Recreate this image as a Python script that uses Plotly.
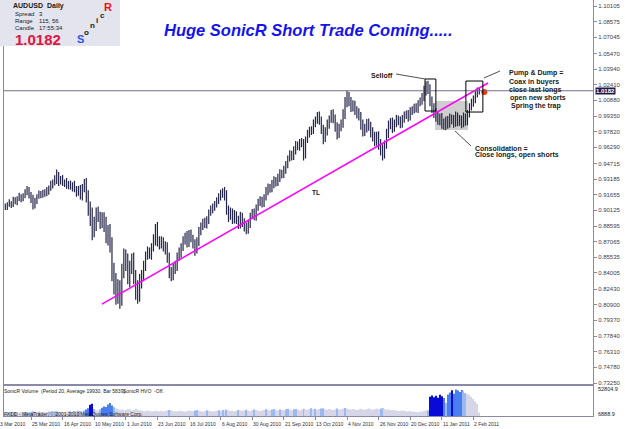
import plotly.graph_objects as go

# ---------------- data ----------------
first_index = 3            # bar index of the first visible bar (bar 0 = 3 Mar 2010)
first_open = 0.9040

closes = [
    0.9050, 0.9068, 0.9082, 0.9075, 0.9110, 0.9098, 0.9125, 0.9140, 0.9132, 0.9160,
    0.9185, 0.9210, 0.9168, 0.9120, 0.9070, 0.9105, 0.9150, 0.9172, 0.9165, 0.9188,
    0.9180, 0.9205, 0.9230, 0.9262, 0.9285, 0.9310, 0.9352, 0.9300, 0.9318, 0.9280,
    0.9290, 0.9255, 0.9270, 0.9238, 0.9262, 0.9220, 0.9190, 0.9215, 0.9150, 0.9240,
    0.9280, 0.9150, 0.9030, 0.8950, 0.8820, 0.8870, 0.8980, 0.8950, 0.8900, 0.8935,
    0.8880, 0.8760, 0.8790, 0.8680, 0.8420, 0.8300, 0.8180, 0.8250, 0.8150, 0.8420,
    0.8560, 0.8500, 0.8350, 0.8460, 0.8520, 0.8370, 0.8240, 0.8180, 0.8320, 0.8380,
    0.8470, 0.8570, 0.8600, 0.8590, 0.8650, 0.8720, 0.8830, 0.8720, 0.8680, 0.8710,
    0.8660, 0.8640, 0.8550, 0.8420, 0.8380, 0.8430, 0.8470, 0.8560, 0.8600, 0.8650,
    0.8720, 0.8760, 0.8700, 0.8780, 0.8740, 0.8690, 0.8630, 0.8700, 0.8810, 0.8860,
    0.8900, 0.8870, 0.8920, 0.8990, 0.9020, 0.9050, 0.9070, 0.9110, 0.9140, 0.9170,
    0.9190, 0.9150, 0.9020, 0.8960, 0.8990, 0.8930, 0.8970, 0.8920, 0.8880, 0.8950,
    0.8900, 0.8850, 0.8820, 0.8880, 0.8960, 0.8990, 0.8950, 0.9040, 0.9090, 0.9110,
    0.9080, 0.9140, 0.9200, 0.9240, 0.9220, 0.9270, 0.9310, 0.9280, 0.9330, 0.9380,
    0.9360, 0.9410, 0.9460, 0.9520, 0.9560, 0.9540, 0.9610, 0.9650, 0.9630, 0.9680,
    0.9660, 0.9560, 0.9700, 0.9760, 0.9800, 0.9790, 0.9860, 0.9900, 0.9930, 0.9880,
    0.9810, 0.9720, 0.9780, 0.9850, 0.9900, 0.9950, 0.9910, 0.9830, 0.9760, 0.9820,
    0.9860, 0.9950, 1.0060, 1.0120, 1.0080, 1.0020, 1.0040, 0.9990, 0.9960, 0.9930,
    0.9850, 0.9780, 0.9820, 0.9860, 0.9840, 0.9780, 0.9730, 0.9690, 0.9740, 0.9660,
    0.9600, 0.9560, 0.9650, 0.9760, 0.9850, 0.9870, 0.9820, 0.9860, 0.9900, 0.9890,
    0.9850, 0.9910, 0.9940, 0.9960, 0.9920, 0.9980, 1.0000, 1.0020, 1.0000, 1.0060,
    1.0080, 1.0120, 1.0180, 1.0230, 1.0190, 1.0080, 1.0020, 0.9960, 0.9930, 0.9890,
    0.9920, 0.9860, 0.9840, 0.9890, 0.9860, 0.9910, 0.9900, 0.9870, 0.9930, 0.9880,
    0.9900, 0.9860, 0.9920, 0.9880, 0.9960, 1.0020, 1.0060, 1.0100, 1.0150, 1.0170,
    1.0182,
]

# upper / lower shadows in pips
up_wick = [
    30, 25, 40, 20, 35, 30, 25, 45, 30, 20,
    35, 40, 30, 25, 45, 30, 20, 35, 30, 25,
    30, 35, 25, 40, 30, 45, 60, 35, 30, 40,
    25, 40, 30, 35, 25, 40, 30, 35, 45, 30,
    40, 50, 60, 70, 90, 80, 60, 70, 50, 60,
    60, 70, 80, 90, 70, 80, 100, 90, 80, 70,
    80, 70, 90, 60, 70, 80, 60, 90, 70, 50,
    50, 40, 60, 50, 40, 60, 50, 70, 40, 50,
    40, 50, 60, 50, 40, 60, 50, 40, 50, 40,
    40, 35, 50, 40, 45, 35, 40, 50, 40, 35,
    30, 40, 35, 30, 40, 30, 35, 30, 40, 45,
    40, 50, 60, 40, 50, 40, 45, 35, 40, 50,
    40, 35, 45, 40, 30, 35, 40, 30, 35, 40,
    35, 30, 40, 35, 30, 40, 35, 30, 40, 35,
    30, 40, 35, 30, 40, 35, 30, 40, 35, 30,
    40, 50, 35, 40, 30, 35, 40, 30, 45, 50,
    50, 40, 45, 50, 40, 45, 50, 40, 45, 40,
    40, 50, 60, 60, 50, 40, 50, 45, 40, 50,
    45, 50, 40, 45, 50, 40, 45, 50, 40, 45,
    50, 60, 45, 50, 40, 45, 50, 40, 45, 40,
    40, 35, 40, 30, 35, 40, 30, 35, 40, 30,
    35, 40, 50, 45, 50, 55, 45, 40, 50, 45,
    40, 45, 50, 40, 45, 50, 40, 45, 50, 40,
    45, 40, 50, 40, 35, 40, 45, 35, 40, 45,
    30,
]
down_wick = [
    25, 35, 20, 40, 30, 25, 35, 20, 40, 30,
    30, 25, 40, 35, 50, 40, 30, 25, 35, 30,
    35, 30, 40, 25, 35, 30, 40, 50, 35, 30,
    40, 30, 35, 25, 40, 30, 45, 35, 30, 40,
    50, 60, 70, 90, 100, 70, 60, 50, 70, 60,
    80, 70, 90, 80, 100, 110, 90, 80, 100, 70,
    70, 80, 60, 90, 70, 80, 100, 80, 60, 70,
    60, 50, 40, 50, 60, 40, 50, 60, 50, 40,
    50, 60, 50, 70, 60, 50, 40, 50, 40, 50,
    35, 40, 50, 45, 40, 50, 60, 40, 35, 40,
    40, 30, 35, 40, 30, 35, 40, 30, 35, 30,
    35, 40, 50, 60, 40, 50, 45, 40, 50, 45,
    50, 45, 40, 35, 40, 30, 35, 40, 30, 35,
    40, 35, 30, 40, 35, 30, 40, 35, 30, 40,
    35, 30, 40, 35, 30, 40, 35, 50, 30, 35,
    30, 60, 40, 30, 35, 40, 30, 35, 40, 30,
    50, 60, 40, 35, 40, 30, 45, 50, 55, 40,
    35, 40, 45, 40, 50, 45, 40, 45, 50, 40,
    50, 45, 40, 45, 50, 55, 45, 50, 45, 55,
    50, 60, 40, 35, 40, 45, 50, 40, 35, 45,
    35, 30, 40, 35, 40, 30, 35, 40, 30, 35,
    30, 35, 40, 45, 40, 50, 55, 45, 50, 40,
    45, 50, 40, 45, 50, 40, 45, 50, 40, 45,
    40, 45, 35, 40, 35, 40, 30, 35, 40, 35,
    25,
]

volumes = [
    5200, 6100, 5800, 6400, 5500, 7000, 6200, 5900, 6600, 6000,
    6800, 7400, 6500, 7100, 8200, 6900, 6300, 7200, 6700, 6100,
    6400, 7000, 7800, 6900, 7300, 8100, 7600, 7000, 6800, 7400,
    6900, 7700, 7200, 8000, 7500, 8400, 7900, 9000, 8600, 8200,
    9500, 11000, 13000, 19000, 21000, 12000, 10000, 9200, 11500, 14000,
    16000, 15500, 19500, 22000, 18000, 15000, 13000, 12500, 10500, 11000,
    9800, 10200, 12000, 11000, 9500, 10800, 12500, 10000, 9600, 8800,
    8200, 7800, 9400, 8600, 7900, 8300, 9100, 8400, 7600, 8800,
    8000, 8700, 9300, 10400, 9900, 8600, 8100, 7700, 8500, 8900,
    8300, 7600, 8100, 9200, 8700, 7900, 9500, 10100, 8800, 8200,
    7800, 8500, 9600, 8800, 8100, 7500, 8300, 9000, 9700, 8400,
    10200, 9400, 11000, 9800, 8600, 9100, 8000, 8700, 10300, 9200,
    8800, 9600, 10800, 9300, 8500, 9900, 11200, 10400, 9100, 8600,
    9400, 10100, 11500, 10200, 9600, 10900, 11800, 10300, 9700, 11100,
    10600, 9800, 11400, 12300, 10800, 10000, 11600, 12000, 10500, 9700,
    10900, 12400, 11300, 10200, 11800, 13000, 11400, 12200, 10700, 11900,
    12600, 13200, 11500, 10800, 12100, 11200, 10400, 11700, 12800, 11000,
    11600, 12500, 13600, 12900, 11300, 10600, 11800, 10900, 10200, 11500,
    12300, 11100, 10500, 11900, 12700, 11400, 10800, 12000, 12600, 11300,
    12900, 13400, 11700, 10600, 11200, 10300, 9800, 10700, 9500, 9100,
    8600, 9400, 8900, 8300, 7800, 8500, 7600, 7200, 6900, 6600,
    7100, 7800, 8400, 9200, 9900, 33000, 35000, 32000, 34500, 31000,
    36000, 33500, 30500, 22000, 36500, 40000, 44000, 38000, 45000, 43500,
    41000, 44500, 42000, 39000, 37500, 36000, 33000, 29000, 25000, 21000,
    5839,
]
volume_max = 52804.9

date_labels = ["3 Mar 2010", "25 Mar 2010", "16 Apr 2010", "10 May 2010", "1 Jun 2010",
               "23 Jun 2010", "16 Jul 2010", "6 Aug 2010", "30 Aug 2010", "21 Sep 2010",
               "13 Oct 2010", "4 Nov 2010", "26 Nov 2010", "20 Dec 2010", "11 Jan 2011",
               "2 Feb 2011"]
date_index = [0, 16, 32, 48, 64, 80, 96, 112, 128, 144, 160, 176, 192, 208, 224, 240]

price_ticks = [1.10105, 1.08575, 1.07045, 1.05470, 1.03940, 1.02410, 1.00880, 0.99350,
               0.97820, 0.96290, 0.94715, 0.93185, 0.91655, 0.90125, 0.88595, 0.87065,
               0.85535, 0.84005, 0.82430, 0.80900, 0.79370, 0.77840, 0.76310, 0.74780,
               0.73250]
current_price = 1.0182

# trend line (bar index, price) and highlighted zones
trend_x = [51.9, 247.4]
trend_y = [0.8097, 1.0258]
selloff_box = dict(x0=215.5, x1=221.0, y0=0.9984, y1=1.0297)
pump_box = dict(x0=236.2, x1=244.8, y0=0.9974, y1=1.0277)
consol_zone = dict(x0=220.6, x1=237.3, y0=0.9798, y1=1.0082)

# ---------------- build ----------------
n = min(len(closes), len(up_wick), len(down_wick), len(volumes))
idx = list(range(first_index, first_index + n))
opens = [first_open] + closes[:n - 1]
highs = [max(o, c) + u * 0.0001 for o, c, u in zip(opens, closes, up_wick)]
lows = [min(o, c) - d * 0.0001 for o, c, d in zip(opens, closes, down_wick)]

vol_colors = []
for k, v in enumerate(volumes[:n]):
    prev = volumes[max(0, k - 20):k] or [v]
    r = v / (sum(prev) / len(prev))
    if r >= 2.0:
        vol_colors.append("#0a0ad8")
    elif r >= 1.35:
        vol_colors.append("#4a7ef0")
    elif r >= 1.1:
        vol_colors.append("#9ab8f2")
    else:
        vol_colors.append("#d6d6e8")

W, H = 625, 429
x_left, x_right = 4, 593
main_bottom, vol_bottom = 385, 416
xr = [2.33, 300.56]
yr = [0.73054, 1.10692]

FONT = "Liberation Sans"
AX = "#8a8aa8"

fig = go.Figure()
fig.add_trace(go.Ohlc(
    x=idx, open=opens, high=highs, low=lows, close=closes[:n],
    increasing=dict(line=dict(color="#26264a", width=1.2)),
    decreasing=dict(line=dict(color="#26264a", width=1.2)),
    tickwidth=0.3, xaxis="x", yaxis="y", showlegend=False, hoverinfo="skip"))

fig.add_trace(go.Scatter(x=trend_x, y=trend_y, mode="lines",
                         line=dict(color="#ff00ff", width=1.5),
                         xaxis="x", yaxis="y", showlegend=False, hoverinfo="skip"))
fig.add_trace(go.Scatter(x=[245.5], y=[1.0170], mode="markers",
                         marker=dict(color="#ff3300", size=6),
                         xaxis="x", yaxis="y", showlegend=False, hoverinfo="skip"))

fig.add_trace(go.Bar(x=idx, y=volumes[:n], marker=dict(color=vol_colors, line=dict(width=0)),
                     xaxis="x2", yaxis="y2", showlegend=False, hoverinfo="skip"))

fig.update_layout(
    width=W, height=H, margin=dict(l=0, r=0, t=0, b=0),
    paper_bgcolor="white", plot_bgcolor="white", bargap=0.45,
    font=dict(family=FONT, color="#303040"),
    xaxis=dict(domain=[x_left / W, x_right / W], range=xr, anchor="y",
               showticklabels=False, showgrid=False, zeroline=False,
               showline=True, mirror=True, linecolor=AX, linewidth=1,
               rangeslider=dict(visible=False)),
    yaxis=dict(domain=[1 - main_bottom / H, 1], range=yr, side="right", anchor="x",
               tickvals=price_ticks, ticktext=[f"{t:.5f}" for t in price_ticks],
               tickfont=dict(size=6, family=FONT, color="#404050"),
               ticks="outside", ticklen=3, tickcolor=AX,
               showgrid=False, zeroline=False, showline=True, mirror=True,
               linecolor=AX, linewidth=1, automargin=False),
    xaxis2=dict(domain=[x_left / W, x_right / W], range=xr, anchor="y2",
                tickvals=date_index, showticklabels=False, ticks="outside",
                ticklen=3, tickcolor=AX, showgrid=False, zeroline=False,
                showline=True, mirror=True, linecolor=AX, linewidth=1),
    yaxis2=dict(domain=[1 - vol_bottom / H, 1 - main_bottom / H], range=[0, volume_max],
                side="right", anchor="x2", showticklabels=False, ticks="",
                showgrid=False, zeroline=False, showline=True, mirror=True,
                linecolor=AX, linewidth=1, automargin=False),
)

shapes = [
    dict(type="rect", xref="x", yref="y", layer="below", line=dict(width=0),
         fillcolor="rgba(190,190,190,0.75)", **consol_zone),
    dict(type="line", xref="paper", yref="y", x0=x_left / W, x1=x_right / W,
         y0=current_price, y1=current_price, line=dict(color="#707088", width=1)),
    dict(type="rect", xref="x", yref="y", line=dict(color="black", width=1),
         fillcolor="rgba(0,0,0,0)", **selloff_box),
    dict(type="rect", xref="x", yref="y", line=dict(color="black", width=1),
         fillcolor="rgba(0,0,0,0)", **pump_box),
    # pointer lines
    dict(type="line", xref="x", yref="y", x0=200.8, y0=1.0346, x1=215.5, y1=1.0297,
         line=dict(color="#505050", width=1)),
    dict(type="line", xref="x", yref="y", x0=245.4, y0=1.0307, x1=253.5, y1=1.0375,
         line=dict(color="#505050", width=1)),
    dict(type="line", xref="x", yref="y", x0=230.7, y0=0.9789, x1=238.8, y1=0.9642,
         line=dict(color="#505050", width=1)),
    # info box
    dict(type="rect", xref="paper", yref="paper", x0=0, x1=120 / W, y0=1 - 46 / H, y1=1,
         fillcolor="#e4e4ee", line=dict(width=0), layer="above"),
]
fig.update_layout(shapes=shapes)


def px(x):
    return x / W


def py(y):
    return 1 - y / H


def index_to_paper(i):
    d0, d1 = x_left / W, x_right / W
    return d0 + (i - xr[0]) / (xr[1] - xr[0]) * (d1 - d0)


ann = []


def t(text, x, y, size, color="#202020", xref="paper", yref="paper", xanchor="left", bold=False, italic=False, **kw):
    if bold:
        text = f"<b>{text}</b>"
    if italic:
        text = f"<i>{text}</i>"
    ann.append(dict(text=text, x=x, y=y, xref=xref, yref=yref, xanchor=xanchor,
                    yanchor="middle", showarrow=False,
                    font=dict(size=size, color=color, family=FONT), **kw))


# info box texts
t("AUDUSD", px(11), py(6), 7, bold=True)
t("Daily", px(45), py(6), 7, bold=True)
t("Spread", px(13), py(14.3), 6)
t("3", px(37), py(14.3), 6)
t("Range", px(13), py(21), 6)
t("115, 56", px(37), py(21), 6)
t("Candle", px(13), py(27.7), 6)
t("17:55:34", px(37), py(27.7), 6)
t(f"{current_price:.4f}", px(13), py(39), 15, color="#e0143c", bold=True)
t("S", px(80), py(39), 11, color="#2e50e6", xanchor="center", bold=True)
t("o", px(86), py(32), 8, color="#202020", xanchor="center", bold=True)
t("n", px(92), py(26), 8, color="#202020", xanchor="center", bold=True)
t("i", px(97), py(20.5), 8, color="#202020", xanchor="center", bold=True)
t("c", px(102), py(15), 8, color="#202020", xanchor="center", bold=True)
t("R", px(108), py(7), 11, color="#ee1010", xanchor="center", bold=True)

# title
t("Huge SonicR Short Trade Coming.....", px(307.5), py(30), 16.5, color="#1414ee",
  xanchor="center", bold=True, italic=True)

# chart notes (data coordinates)
t("Selloff", 193.7, 1.0336, 7, xref="x", yref="y", xanchor="center", bold=True)
pump_lines = ["Pump & Dump =", "Coax in buyers", "close last longs", "open new shorts", "Spring the trap"]
pump_y = [1.0356, 1.0270, 1.0192, 1.0114, 1.0033]
pump_x = [256.8, 256.8, 256.8, 257.3, 257.8]
for s, yy, xx in zip(pump_lines, pump_y, pump_x):
    t(s.replace("&", "&amp;"), xx, yy, 7, xref="x", yref="y", bold=True)
t("Consolidation =", 239.6, 0.9622, 7, xref="x", yref="y", bold=True)
t("Close longs, open shorts", 239.8, 0.9552, 7, xref="x", yref="y", bold=True)
t("TL", 160.3, 0.9192, 6.5, xref="x", yref="y", xanchor="center", bold=True)

# current price box on the price scale
ann.append(dict(text=f"<b>{current_price:.4f}</b>", x=px(595), y=current_price, xref="paper", yref="y",
                xanchor="left", yanchor="middle", showarrow=False, bgcolor="#1c1c50",
                borderpad=0, font=dict(size=6, color="white", family=FONT)))

# volume window texts
t("SonicR Volume  (Period 20, Average 19930, Bar 5839)", px(2), py(390.5), 5)
t("SonicR HVO  -Off.", px(121), py(390.5), 5)
t("FXDD - MetaTrader, © 2001-2010 MetaQuotes Software Corp.", px(2), py(413.5), 5)
t(f"{volume_max:.1f}", px(596), py(389), 5.5)
t("6888.9", px(596), py(414), 5.5)

# date labels (start at their bar's tick)
for lab, i in zip(date_labels, date_index):
    ann.append(dict(text=lab, x=index_to_paper(i), y=py(424), xref="paper", yref="paper",
                    xanchor="left", yanchor="middle", showarrow=False, borderpad=0,
                    font=dict(size=5, color="#303040", family=FONT)))

fig.update_layout(annotations=ann)
fig.write_html("out.html")
